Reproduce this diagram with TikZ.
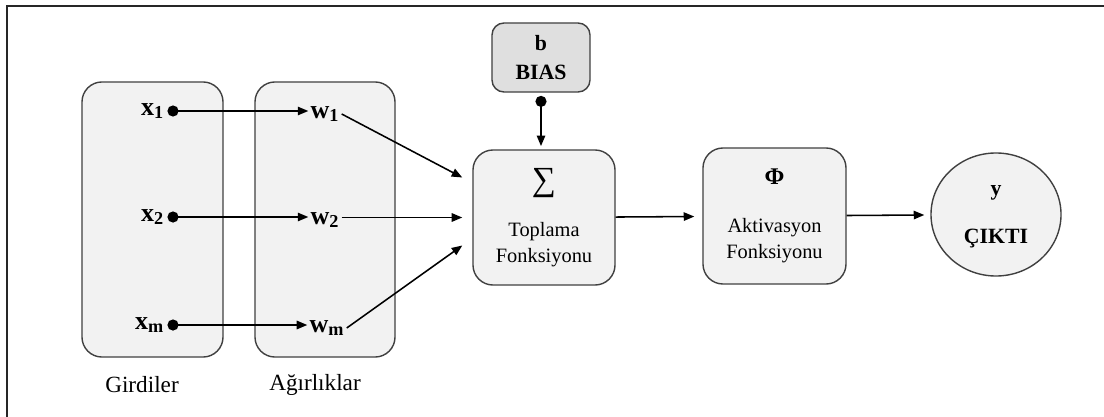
\documentclass[tikz,border=0pt]{standalone}
\usepackage{fontspec}
\setmainfont{Liberation Serif}
\usetikzlibrary{positioning,arrows.meta,shapes.geometric,calc}

\begin{document}
\begin{tikzpicture}[x=0.025cm, y=0.025cm,
  panel/.style={draw=black!75, line width=1pt, fill=gray!10, rounded corners=5mm},
  unit/.style={panel, align=center, font=\fontsize{14.5}{18.4}\selectfont},
  dot/.style={circle, fill=black, inner sep=0pt, minimum size=2.8mm},
  var/.style={font=\bfseries\fontsize{18.5}{20}\selectfont, inner sep=1.5pt},
  arr/.style={-{Triangle[length=7.5pt,width=6pt]}, line width=1.1pt},
  caption/.style={font=\fontsize{16.5}{20}\selectfont}]

  \useasboundingbox (0,0) rectangle (1104,416);

  % frame
  \draw[line width=1.3pt, black!85] (1110,410) -- (7,410) -- (7,-5);

  % inputs and weights panels
  \node[panel, minimum width=3.525cm, minimum height=6.875cm] (girdi) at (152.5,196.5) {};
  \node[panel, minimum width=3.5cm, minimum height=6.875cm] (agirlik) at (325,196.5) {};
  \node[caption] (girdiLbl) at (142,31) {Girdiler};
  \node[caption] (agirlikLbl) at (315,31) {Ağırlıklar};

  % input dots
  \node[dot] (d1) at (173,305) {};
  \node[dot] (d2) at (173,199) {};
  \node[dot] (dm) at (173,91) {};
  \node[var, left=0.2mm of d1] (x1) {x\textsubscript{1}};
  \node[var, left=0.2mm of d2] (x2) {x\textsubscript{2}};
  \node[var, left=0.2mm of dm] (xm) {x\textsubscript{m}};

  % weights
  \node[var] (w1) at (325,302) {w\textsubscript{1}};
  \node[var] (w2) at (325,196) {w\textsubscript{2}};
  \node[var] (wm) at (327,88) {w\textsubscript{m}};

  % summation, bias, activation, output
  \node[unit, minimum width=3.55cm, minimum height=3.375cm] (sum) at (544,198.5)
    {{\fontsize{24}{24}\selectfont ∑}\\[14pt]Toplama\\Fonksiyonu};
  \node[panel, fill=gray!25, rounded corners=3mm, align=center,
    font=\bfseries\fontsize{15.5}{20}\selectfont,
    minimum width=2.45cm, minimum height=1.725cm] (bias) at (541,358.5) {b\\BIAS};
  \node[dot, below=0.7mm of bias] (biasDot) {};
  \node[unit, minimum width=3.575cm, minimum height=3.4cm] (akt) at (774.5,200)
    {{\bfseries\fontsize{17}{17}\selectfont Φ}\\[16pt]Aktivasyon\\Fonksiyonu};
  \node[ellipse, draw=black!75, line width=1pt, fill=gray!10, align=center,
    font=\bfseries\fontsize{15.5}{18}\selectfont, text depth=0pt,
    minimum width=3.25cm, minimum height=3.075cm] (out) at (996,201.5) {y\\[16pt]ÇIKTI};

  \coordinate (in1) at ($(sum.west)+(-10,40)$);
  \coordinate (in2) at ($(sum.west)+(-10,0)$);
  \coordinate (inm) at ($(sum.west)+(-10,-28)$);

  % connectors
  \draw[arr] (d1.center) -- (d1 -| w1.west);
  \draw[arr] (d2.center) -- (d2 -| w2.west);
  \draw[arr] (dm.center) -- (dm -| wm.west);
  \draw[arr] (w1.east) -- (in1);
  \draw[arr] (w2.east |- in2) -- (in2);
  \draw[arr] (wm.east) -- (inm);
  \draw[arr, shorten >=0.8mm] (biasDot.center) -- (biasDot |- sum.north);
  \draw[arr, shorten >=2mm] (sum) -- (akt);
  \draw[arr, shorten >=1.5mm] (akt) -- (out);

\end{tikzpicture}
\end{document}
